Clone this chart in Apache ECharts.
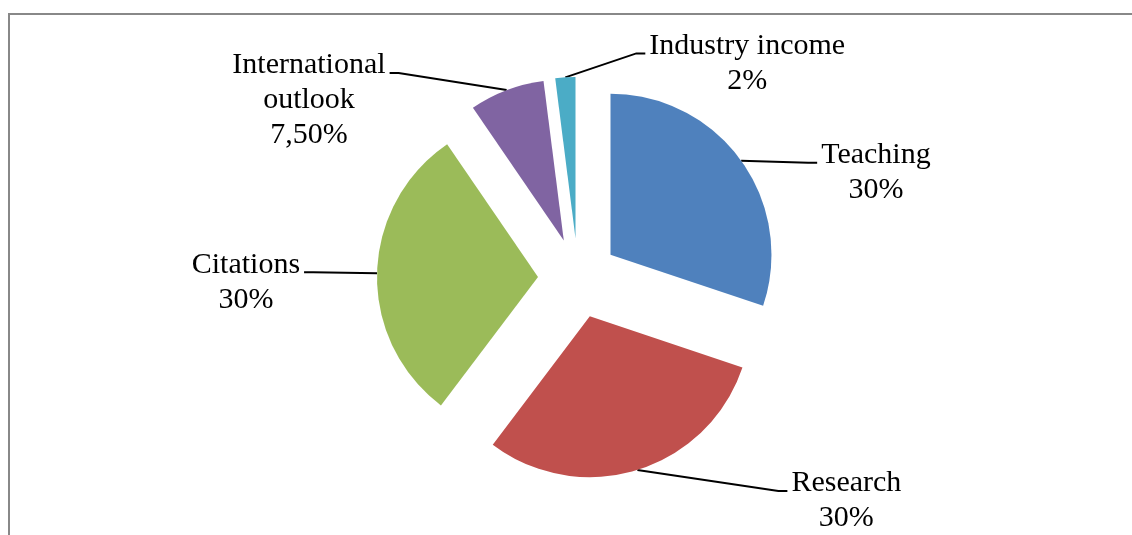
<!DOCTYPE html>
<html>
<head>
<meta charset="utf-8">
<script src="https://cdn.jsdelivr.net/npm/echarts@6/dist/echarts.min.js"></script>
<style>
  html, body { margin: 0; padding: 0; background: #fff; overflow: hidden; }
  #frame { position: absolute; left: 8px; top: 13px; width: 1400px; height: 800px;
           border: 2px solid #888; box-sizing: border-box; }
  #chart { position: absolute; left: 0; top: 0; width: 1132px; height: 535px; }
</style>
</head>
<body>
<div id="frame"></div>
<div id="chart"></div>
<script>
// Ranking weights per performance area
const categories = ['Teaching', 'Research', 'Citations', 'International\noutlook', 'Industry income'];
const weights = [30, 30, 30, 7.5, 2];
const sliceColors = ['#4F81BD', '#C0504D', '#9BBB59', '#8064A2', '#4BACC6'];

const PIE_CENTER = [578, 278];
const PIE_RADIUS = 161;
const EXPLODE = 40;

// Where each leader line ends, relative to where it leaves the (exploded) slice rim
const leaderEnds = [[76, 2], [150, 21], [-73, -1], [-117, -17], [80, -24]];

function formatWeight(v) {
  return Number.isInteger(v) ? v + '%' : v.toFixed(2).replace('.', ',') + '%';
}

const chart = echarts.init(document.getElementById('chart'), null, { renderer: 'canvas' });

const common = {
  type: 'pie',
  center: PIE_CENTER,
  radius: PIE_RADIUS,
  startAngle: 90,
  clockwise: true,
  emphasis: { disabled: true },
  silent: true
};

chart.setOption({
  animation: false,
  backgroundColor: 'transparent',
  series: [
    // exploded slices
    Object.assign({}, common, {
      selectedMode: 'multiple',
      selectedOffset: EXPLODE,
      itemStyle: { borderWidth: 0 },
      label: { show: false },
      labelLine: { show: false },
      data: categories.map((name, i) => ({
        name: name,
        value: weights[i],
        selected: true,
        itemStyle: { color: sliceColors[i] },
        select: { itemStyle: { color: sliceColors[i], borderWidth: 0 } }
      }))
    }),
    // data labels with leader lines, attached to the exploded rim
    Object.assign({}, common, {
      itemStyle: { color: 'rgba(0,0,0,0)', borderWidth: 0 },
      label: {
        show: true,
        position: 'outside',
        color: '#000',
        fontFamily: 'Liberation Serif',
        fontSize: 30,
        lineHeight: 35,
        align: 'center',
        formatter: p => p.name + '\n' + formatWeight(p.value)
      },
      labelLine: {
        show: true,
        length: 20,
        length2: 20,
        lineStyle: { color: '#000', width: 2 }
      },
      labelLayout: function (params) {
        const pts = params.labelLinePoints;
        if (!pts) return {};
        const r0 = pts[0];
        const vx = r0[0] - PIE_CENTER[0], vy = r0[1] - PIE_CENTER[1];
        const len = Math.sqrt(vx * vx + vy * vy) || 1;
        const p0 = [r0[0] + EXPLODE * vx / len, r0[1] + EXPLODE * vy / len];
        const off = leaderEnds[params.dataIndex];
        const end = [p0[0] + off[0], p0[1] + off[1]];
        const dir = off[0] >= 0 ? 1 : -1;
        const knee = [end[0] - dir * 9, end[1]];
        const w = params.labelRect.width;
        return {
          x: end[0] + dir * (4 + w / 2),
          y: end[1] - 25,
          align: 'center',
          verticalAlign: 'top',
          labelLinePoints: [p0, knee, end]
        };
      },
      data: categories.map((name, i) => ({ name: name, value: weights[i] }))
    })
  ]
});
</script>
</body>
</html>
